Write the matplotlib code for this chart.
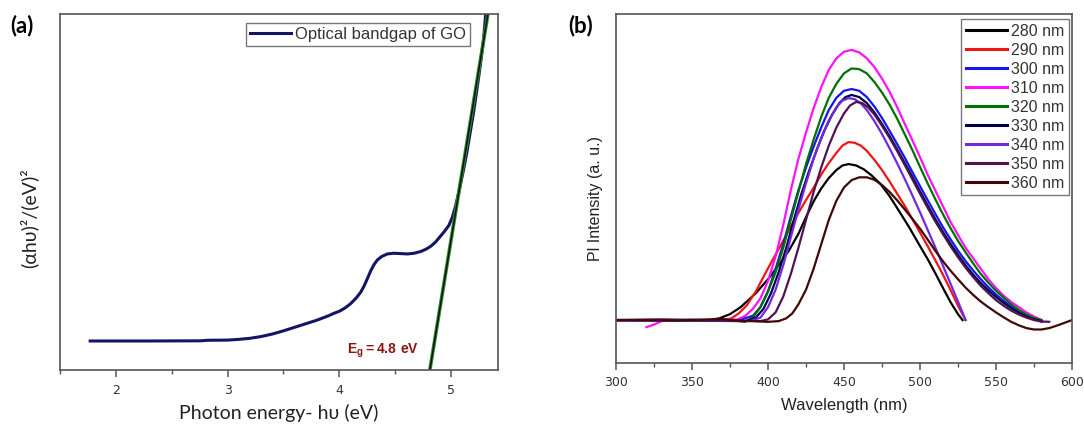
import numpy as np
import matplotlib.pyplot as plt
from matplotlib.ticker import MultipleLocator

plt.rcParams['mathtext.fontset'] = 'custom'
plt.rcParams['mathtext.bf'] = 'Liberation Sans:bold'
plt.rcParams['mathtext.rm'] = 'Liberation Sans'

### Panel (a) data: Tauc plot of GO
tauc_energy = [1.77, 2.3, 2.76, 2.82, 3.0, 3.1, 3.2, 3.3, 3.4, 3.5, 3.6, 3.7, 3.8, 3.9, 3.95, 4.0,
               4.05, 4.1, 4.15, 4.19, 4.22, 4.25, 4.28, 4.31, 4.34, 4.38, 4.43, 4.49, 4.55, 4.61,
               4.67, 4.73, 4.78, 4.82, 4.86, 4.9, 4.94, 4.98, 5.01, 5.04, 5.08, 5.11, 5.14, 5.17,
               5.2, 5.23, 5.26, 5.29, 5.31]
tauc_signal = [8.15, 8.15, 8.2, 8.35, 8.4, 8.6, 8.9, 9.4, 10.1, 11.0, 12.0, 13.0, 14.0, 15.2, 15.9,
               16.5, 17.4, 18.6, 20.2, 21.8, 23.5, 25.6, 27.8, 29.6, 30.9, 31.9, 32.6, 32.8, 32.7,
               32.6, 32.8, 33.3, 34.0, 34.8, 35.9, 37.4, 38.9, 40.6, 42.8, 46.0, 51.5, 56.0, 60.9,
               66.5, 72.1, 78.5, 85.2, 92.5, 100.2]
fit_energy = [4.81, 5.335]
fit_signal = [0.0, 101.0]

### Panel (b) data: PL spectra for each excitation wavelength
pl_labels = ['280 nm', '290 nm', '300 nm', '310 nm', '320 nm', '330 nm', '340 nm', '350 nm', '360 nm']
pl_colors = ['#000000', '#ee1515', '#1414f0', '#ff10ff', '#007000', '#00004a', '#7028e0', '#501350', '#420808']

wl_280 = [300, 330, 360, 368, 375, 382, 387, 392, 400, 407, 414, 420, 425, 430, 435, 440, 445, 449,
          453, 458, 463, 468, 474, 480, 487, 493, 500, 505, 510, 515, 520, 525, 528]
pl_280 = [12.3, 12.4, 12.2, 12.8, 14.0, 16.0, 18.0, 20.0, 24.0, 28.0, 32.4, 37.0, 41.8, 46.3, 50.0,
          53.0, 55.3, 56.6, 57.0, 56.6, 55.5, 53.8, 51.3, 47.8, 43.0, 38.8, 33.5, 29.8, 25.8, 21.6,
          17.5, 14.0, 12.3]

wl_290 = [300, 330, 350, 370, 376, 381, 386, 392, 398, 403, 410, 418, 425, 430, 435, 440, 445, 449,
          453, 457, 461, 465, 470, 475, 480, 485, 490, 495, 500, 505, 510, 515, 520, 525, 530]
pl_290 = [12.3, 12.4, 12.2, 12.3, 12.8, 14.3, 16.5, 20.5, 25.5, 29.5, 35.0, 41.5, 46.7, 50.2, 54.0,
          57.3, 60.2, 62.3, 63.3, 63.1, 62.3, 60.8, 58.2, 55.3, 52.0, 48.5, 45.0, 41.2, 37.4, 33.5,
          29.5, 25.4, 21.0, 16.4, 12.3]

wl_300 = [300, 340, 380, 390, 395, 400, 405, 410, 415, 420, 425, 430, 435, 440, 445, 450, 455, 460,
          465, 470, 475, 480, 485, 490, 495, 500, 505, 510, 515, 520, 525, 530, 535, 540, 545, 550,
          555, 560, 565, 570, 575, 580]
pl_300 = [12.3, 12.1, 12.2, 13.5, 16.0, 20.5, 27.0, 34.0, 42.0, 49.5, 56.0, 62.0, 67.5, 72.5, 76.0,
          78.0, 78.5, 78.0, 76.2, 73.5, 70.2, 66.5, 62.7, 58.8, 54.7, 50.7, 46.7, 42.8, 39.0, 35.5,
          32.2, 29.2, 26.5, 24.0, 21.7, 19.6, 17.8, 16.2, 14.8, 13.6, 12.6, 11.8]

wl_310 = [320, 325, 330, 340, 350, 360, 370, 380, 385, 390, 395, 400, 405, 410, 415, 420, 425, 430,
          435, 440, 445, 450, 455, 460, 465, 470, 475, 480, 485, 490, 495, 500, 505, 510, 515, 520,
          525, 530, 535, 540, 545, 550, 555, 560, 565, 570, 575, 580]
pl_310 = [10.3, 11.0, 12.0, 12.3, 12.2, 12.4, 12.2, 12.5, 13.5, 15.5, 18.5, 23.5, 30.5, 39.5, 49.5,
          58.5, 66.0, 73.0, 79.0, 84.0, 87.3, 89.2, 89.7, 89.0, 87.3, 84.8, 81.5, 77.7, 73.3, 68.5,
          63.8, 59.0, 54.0, 49.5, 45.0, 40.5, 36.7, 33.0, 30.0, 27.0, 24.0, 21.5, 19.3, 17.5, 16.0,
          14.5, 13.3, 12.3]

wl_320 = [300, 340, 380, 385, 390, 395, 400, 405, 410, 415, 420, 425, 430, 435, 440, 445, 450, 455,
          460, 465, 470, 475, 480, 485, 490, 495, 500, 505, 510, 515, 520, 525, 530, 535, 540, 545,
          550, 555, 560, 565, 570, 575, 580]
pl_320 = [12.3, 12.2, 12.0, 11.8, 13.0, 16.0, 20.5, 26.0, 33.0, 41.0, 49.0, 57.0, 64.0, 70.5, 76.0,
          80.0, 83.0, 84.4, 84.2, 83.0, 80.5, 77.5, 74.0, 70.0, 65.5, 61.0, 56.2, 51.5, 47.0, 42.7,
          38.7, 35.0, 31.7, 28.5, 25.5, 23.0, 20.7, 18.7, 16.8, 15.2, 13.9, 12.9, 12.3]

wl_330 = [300, 350, 385, 392, 397, 402, 407, 412, 417, 422, 427, 432, 437, 442, 447, 451, 455, 460,
          465, 470, 475, 480, 485, 490, 495, 500, 505, 510, 515, 520, 525, 530, 535, 540, 545, 550,
          555, 560, 565, 570, 575, 580]
pl_330 = [12.3, 12.4, 12.0, 13.0, 15.5, 20.0, 26.0, 33.0, 41.0, 48.5, 55.0, 61.0, 66.5, 71.0, 74.5,
          76.2, 76.8, 76.2, 74.5, 71.8, 68.5, 65.0, 61.2, 57.3, 53.3, 49.2, 45.2, 41.3, 37.6, 34.2,
          31.0, 28.0, 25.3, 22.9, 20.8, 18.9, 17.2, 15.7, 14.4, 13.3, 12.5, 12.0]

wl_340 = [300, 350, 388, 395, 400, 405, 410, 415, 420, 425, 430, 435, 440, 445, 449, 453, 457, 461,
          465, 470, 475, 480, 485, 490, 495, 500, 505, 510, 515, 520, 525, 530]
pl_340 = [12.2, 12.3, 12.0, 13.0, 16.0, 21.0, 28.0, 36.0, 44.0, 51.5, 58.5, 64.5, 69.5, 73.3, 75.2,
          75.9, 75.6, 74.4, 72.5, 69.3, 65.6, 61.5, 57.2, 52.7, 48.0, 43.2, 38.2, 33.2, 28.0, 22.8,
          17.6, 12.3]

wl_350 = [300, 360, 395, 400, 405, 410, 415, 420, 425, 430, 435, 440, 445, 450, 454, 458, 462, 466,
          470, 475, 480, 485, 490, 495, 500, 505, 510, 515, 520, 525, 530, 535, 540, 545, 550, 555,
          560, 565, 570, 575, 580, 585]
pl_350 = [12.3, 12.2, 12.0, 12.5, 14.5, 19.0, 25.5, 33.0, 41.0, 49.0, 56.0, 62.3, 67.5, 71.5, 73.8,
          74.8, 74.5, 73.2, 71.2, 68.0, 64.5, 60.7, 56.7, 52.6, 48.5, 44.5, 40.6, 37.0, 33.5, 30.3,
          27.3, 24.6, 22.1, 20.0, 18.0, 16.4, 15.0, 13.9, 13.0, 12.3, 11.9, 11.8]

wl_360 = [300, 340, 370, 375, 400, 407, 412, 416, 420, 425, 430, 435, 440, 445, 450, 455, 460, 465,
          470, 475, 480, 485, 490, 495, 500, 505, 510, 515, 520, 525, 530, 535, 540, 545, 550, 555,
          560, 565, 570, 575, 580, 585, 590, 595, 600]
pl_360 = [12.3, 12.2, 12.6, 12.3, 11.8, 12.0, 12.8, 14.2, 16.8, 21.0, 27.0, 34.0, 41.0, 46.5, 50.3,
          52.4, 53.2, 53.2, 52.5, 51.0, 49.0, 46.6, 44.0, 41.3, 38.5, 35.4, 32.2, 29.2, 26.5, 24.0,
          21.6, 19.5, 17.6, 16.0, 14.5, 13.1, 11.8, 10.8, 10.0, 9.6, 9.6, 10.0, 10.7, 11.5, 12.3]

pl_wl = [wl_280, wl_290, wl_300, wl_310, wl_320, wl_330, wl_340, wl_350, wl_360]
pl_int = [pl_280, pl_290, pl_300, pl_310, pl_320, pl_330, pl_340, pl_350, pl_360]

spine_col = '#555555'
text_col = '#333333'
label_font = ['Lato', 'DejaVu Sans']

fig = plt.figure(figsize=(10.84, 4.25), dpi=100)
ax1 = fig.add_axes([60/1084, 55/425, 438/1084, 356/425])
ax2 = fig.add_axes([616/1084, 62/425, 456/1084, 349/425])

for ax in (ax1, ax2):
    for s in ax.spines.values():
        s.set_color(spine_col)
        s.set_linewidth(1.2)
    ax.set_yticks([])
    ax.set_ylim(0, 100)
    ax.tick_params(axis='x', which='both', direction='out', colors=spine_col,
                   labelcolor=text_col, labelsize=9)
    ax.tick_params(axis='x', which='major', length=5, width=1.1)
    ax.tick_params(axis='x', which='minor', length=3, width=1.0)

### Panel (a)
ax1.plot(tauc_energy, tauc_signal, color='#141466', lw=2.2, label='Optical bandgap of GO')
ax1.plot(fit_energy, fit_signal, color='#2e8b2e', lw=2.6)
ax1.plot(fit_energy, fit_signal, color='#111111', lw=1.1)
ax1.set_xlim(1.5, 5.42)
ax1.xaxis.set_major_locator(MultipleLocator(1))
ax1.xaxis.set_minor_locator(MultipleLocator(0.5))
ax1.tick_params(axis='x', pad=5)
ax1.text(4.07, 5.3, r'$\mathbf{E_g = 4.8\ eV}$', color='#8b1515', fontsize=10,
         ha='left', va='center')
ax1.set_xlabel('Photon energy- hυ (eV)', family=label_font, fontsize=14, color='#222222')
ax1.xaxis.set_label_coords(0.5, -0.095)
ax1.set_ylabel('(αhυ)²/(eV)²', family=label_font, fontsize=14, color='#222222')
ax1.yaxis.set_label_coords(-0.05, 0.427)
leg1 = ax1.legend(loc='upper right', bbox_to_anchor=(0.936, 0.975), borderaxespad=0,
                  fancybox=False, handlelength=2.5, handletextpad=0.2, borderpad=0.25,
                  prop={'family': 'Liberation Sans', 'size': 12})
leg1.get_frame().set_edgecolor(spine_col)
leg1.get_frame().set_linewidth(1.0)
for t in leg1.get_texts():
    t.set_color(text_col)

### Panel (b)
for wl, inten, lab, col in zip(pl_wl, pl_int, pl_labels, pl_colors):
    ax2.plot(wl, inten, color=col, lw=1.6, label=lab)
ax2.set_xlim(300, 600)
ax2.xaxis.set_major_locator(MultipleLocator(50))
ax2.xaxis.set_minor_locator(MultipleLocator(25))
ax2.tick_params(axis='x', pad=4)
ax2.set_xlabel('Wavelength (nm)', family='Liberation Sans', fontsize=12, color='#222222')
ax2.xaxis.set_label_coords(0.5, -0.1)
ax2.set_ylabel('Pl Intensity (a. u.)', family='Liberation Sans', fontsize=11.5, color='#222222')
ax2.yaxis.set_label_coords(-0.029, 0.471)
leg2 = ax2.legend(loc='upper right', bbox_to_anchor=(0.993, 0.986), borderaxespad=0,
                  fancybox=False, handlelength=2.6, handletextpad=0.2, borderpad=0.3,
                  labelspacing=0.25, prop={'family': 'Liberation Sans', 'size': 11.5})
leg2.get_frame().set_edgecolor(spine_col)
leg2.get_frame().set_linewidth(1.0)
for t in leg2.get_texts():
    t.set_color(text_col)
for h in leg2.get_lines():
    h.set_linewidth(2.2)

fig.text(10/1084, 1 - 26/425, '(a)', family=label_font, fontweight='bold', fontsize=16,
         va='center', ha='left')
fig.text(568/1084, 1 - 26/425, '(b)', family=label_font, fontweight='bold', fontsize=16,
         va='center', ha='left')

fig.savefig('out.png', dpi=100)
